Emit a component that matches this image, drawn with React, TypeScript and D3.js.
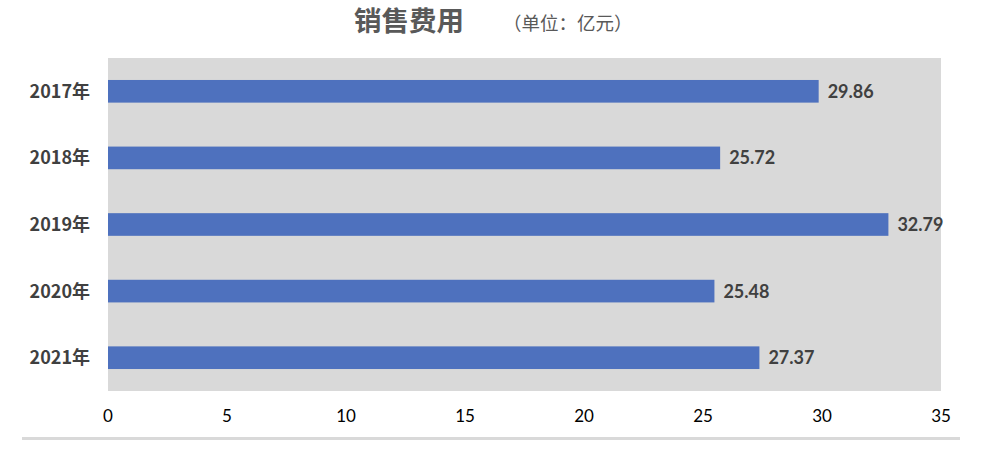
import React, { useEffect, useRef } from 'react';
import * as d3 from 'd3';

const years = ['2017年', '2018年', '2019年', '2020年', '2021年'];
const salesCost = [29.86, 25.72, 32.79, 25.48, 27.37];
const xTicks = [0, 5, 10, 15, 20, 25, 30, 35];

const W = 982;
const H = 450;

export default function App() {
  const ref = useRef<SVGSVGElement>(null);

  useEffect(() => {
    const svg = d3.select(ref.current);
    svg.selectAll('*').remove();

    const left = 108;
    const right = 941;
    const top = 58;
    const bottom = 391;

    const x = d3.scaleLinear().domain([0, 35]).range([left, right]);
    const y = d3.scaleBand<string>().domain(years).range([top, bottom]).paddingInner(0.66).paddingOuter(0.33);

    // plot background
    svg.append('rect')
      .attr('x', left).attr('y', top)
      .attr('width', right - left).attr('height', bottom - top)
      .attr('fill', '#d9d9d9');

    // title
    svg.append('text')
      .attr('x', 354).attr('y', 31)
      .attr('font-family', '"Noto Sans CJK SC", sans-serif')
      .attr('font-size', 27.5).attr('font-weight', 'bold')
      .attr('fill', '#595959')
      .text('销售费用');
    svg.append('text')
      .attr('x', 503).attr('y', 30)
      .attr('font-family', '"Noto Sans CJK SC", sans-serif')
      .attr('font-size', 18.5)
      .attr('fill', '#595959')
      .text('（单位：亿元）');

    // bars
    svg.selectAll('rect.bar')
      .data(salesCost)
      .join('rect')
      .attr('class', 'bar')
      .attr('x', x(0))
      .attr('y', (d, i) => y(years[i]) as number)
      .attr('width', d => x(d) - x(0))
      .attr('height', y.bandwidth())
      .attr('fill', '#4e71be');

    // value labels
    svg.selectAll('text.val')
      .data(salesCost)
      .join('text')
      .attr('class', 'val')
      .attr('x', d => x(d) + 9)
      .attr('y', (d, i) => (y(years[i]) as number) + y.bandwidth() / 2)
      .attr('dy', '0.36em')
      .attr('font-family', 'Lato, sans-serif')
      .attr('font-size', 18).attr('font-weight', 'bold')
      .attr('fill', '#404040')
      .text(d => d.toFixed(2));

    // category labels
    svg.selectAll('text.cat')
      .data(years)
      .join('text')
      .attr('class', 'cat')
      .attr('x', 90)
      .attr('y', d => (y(d) as number) + y.bandwidth() / 2)
      .attr('dy', '0.36em')
      .attr('text-anchor', 'end')
      .attr('font-family', '"Noto Sans CJK SC", sans-serif')
      .attr('font-size', 18).attr('font-weight', 'bold')
      .attr('fill', '#404040')
      .text(d => d);

    // x axis tick labels
    svg.selectAll('text.tick')
      .data(xTicks)
      .join('text')
      .attr('class', 'tick')
      .attr('x', d => x(d))
      .attr('y', 422)
      .attr('text-anchor', 'middle')
      .attr('font-family', 'Lato, sans-serif')
      .attr('font-size', 17)
      .attr('fill', '#000')
      .text(d => d);

    // bottom rule
    svg.append('rect')
      .attr('x', 22).attr('y', 437)
      .attr('width', 938).attr('height', 3)
      .attr('fill', '#d9d9d9');
  }, []);

  return (
    <svg ref={ref} width={W} height={H} style={{ position: 'absolute', left: 0, top: 0, background: '#fff' }} />
  );
}
